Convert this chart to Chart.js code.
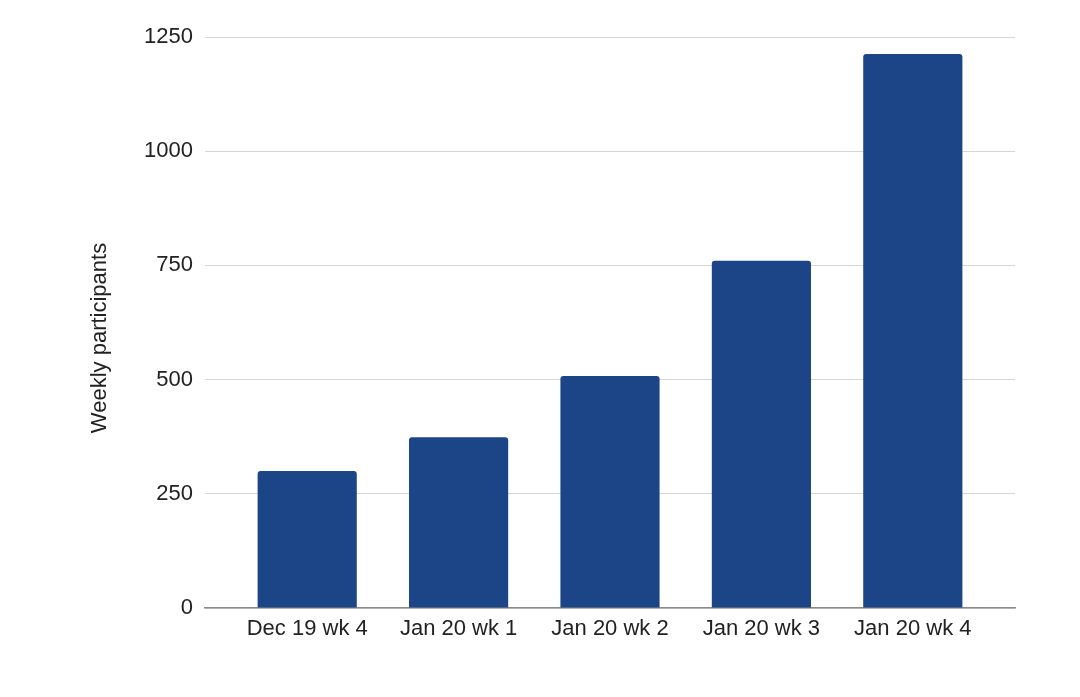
<!DOCTYPE html>
<html lang="en">
<head>
    <meta charset="UTF-8">
    <title>Weekly participants</title>
    <style>
        body {
            margin: 0;
            background: #fff;
            font-family: "Liberation Sans", Arial, sans-serif;
        }
        #wrap {
            width: 1080px;
            height: 697px;
        }
    </style>
    <script src="https://cdn.jsdelivr.net/npm/chart.js"></script>
</head>
<body>
    <div id="wrap"><canvas id="myChart"></canvas></div>
    <script>
        const weeks = ['Dec 19 wk 4', 'Jan 20 wk 1', 'Jan 20 wk 2', 'Jan 20 wk 3', 'Jan 20 wk 4'];
        const participants = [300, 374, 508, 760, 1213];
        const yTicks = [0, 250, 500, 750, 1000, 1250];
        const yTitle = 'Weekly participants';

        const FONT = '"Liberation Sans", Arial, sans-serif';
        const TEXT = '#222';

        // y title drawn by hand so it sits where the original has it
        const sideTitle = {
            id: 'sideTitle',
            afterDraw(chart) {
                const ctx = chart.ctx;
                ctx.save();
                ctx.translate(100, 338);
                ctx.rotate(-Math.PI / 2);
                ctx.font = '22px ' + FONT;
                ctx.fillStyle = TEXT;
                ctx.textAlign = 'center';
                ctx.textBaseline = 'middle';
                ctx.fillText(yTitle, 0, 0);
                ctx.restore();
            }
        };

        const ctx = document.getElementById('myChart').getContext('2d');
        new Chart(ctx, {
            type: 'bar',
            data: {
                datasets: [{
                    label: yTitle,
                    data: participants.map((v, i) => ({ x: i, y: v })),
                    backgroundColor: '#1c4587',
                    borderRadius: 3,
                    categoryPercentage: 1,
                    barPercentage: 0.655
                }]
            },
            options: {
                responsive: true,
                maintainAspectRatio: false,
                animation: false,
                layout: {
                    padding: { left: 0, top: 37, right: 65, bottom: 0 }
                },
                scales: {
                    x: {
                        type: 'linear',
                        offset: false,
                        min: -0.675,
                        max: 4.675,
                        afterBuildTicks: axis => {
                            axis.ticks = weeks.map((_, i) => ({ value: i }));
                        },
                        afterFit: axis => { axis.height = 89; },
                        grid: { display: false, drawTicks: false },
                        border: { display: true, color: '#8a8a8a', width: 1.5 },
                        ticks: {
                            padding: 8,
                            color: TEXT,
                            font: { family: FONT, size: 22 },
                            maxRotation: 0,
                            autoSkip: false,
                            callback: v => weeks[v]
                        }
                    },
                    y: {
                        min: 0,
                        max: 1250,
                        afterBuildTicks: axis => {
                            axis.ticks = yTicks.map(v => ({ value: v }));
                        },
                        afterFit: axis => { axis.width = 205; },
                        grid: { color: '#d6d6d6', lineWidth: 1, drawTicks: false },
                        border: { display: false },
                        ticks: {
                            padding: 12,
                            color: TEXT,
                            font: { family: FONT, size: 22 },
                            callback: v => String(v)
                        }
                    }
                },
                plugins: {
                    legend: { display: false },
                    tooltip: { enabled: false }
                }
            },
            plugins: [sideTitle]
        });
    </script>
</body>
</html>
